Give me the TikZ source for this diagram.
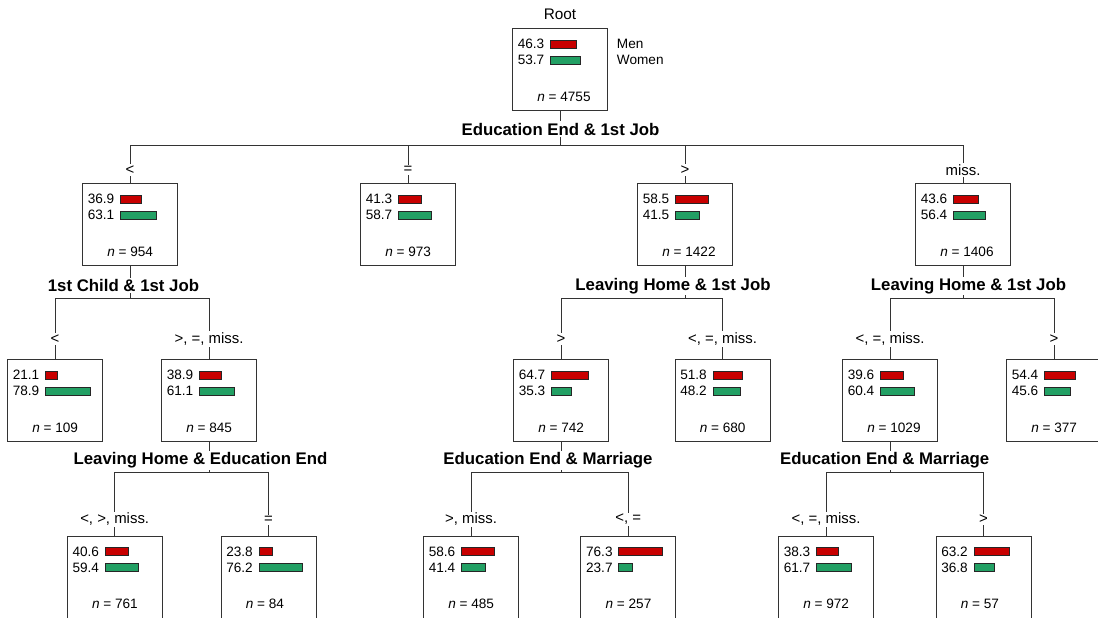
\documentclass[tikz,border=0pt]{standalone}
\usepackage{fontspec}
\setmainfont{Liberation Sans}
\usetikzlibrary{positioning}
\definecolor{menred}{RGB}{200,0,0}
\definecolor{womengreen}{RGB}{34,160,100}
\tikzset{
  box/.style={rectangle,draw=black!80,line width=0.7pt,minimum width=71.25pt,minimum height=61.5pt,inner sep=0pt,anchor=north},
  bar/.style={draw=black!85,line width=0.6pt},
  val/.style={anchor=west,inner sep=0pt,font=\fontsize{10.2}{12}\selectfont},
  conn/.style={draw=black!80,line width=0.7pt},
  splitlbl/.style={fill=white,inner sep=1pt,font=\fontsize{12.6}{14}\selectfont\bfseries},
  cutlbl/.style={fill=white,inner sep=1pt,font=\fontsize{11.2}{13}\selectfont}
}

\begin{document}
\begin{tikzpicture}[x=0.75pt,y=-0.75pt]
    \useasboundingbox (0,0) rectangle (1098,617);
    \clip (0,0) rectangle (1098,617);

    % === Boxes: name/x/top/men/women/n ===
    \foreach \nm/\x/\y/\m/\w/\n in {root/560/28/46.3/53.7/4755,
        a/130/183/36.9/63.1/954, b/408/183/41.3/58.7/973,
        c/685/183/58.5/41.5/1422, d/963/183/43.6/56.4/1406,
        a1/55/359/21.1/78.9/109, a2/209/359/38.9/61.1/845,
        c1/561/359/64.7/35.3/742, c2/722.5/359/51.8/48.2/680,
        d1/890/359/39.6/60.4/1029, d2/1054/359/54.4/45.6/377,
        a21/114.7/535.7/40.6/59.4/761, a22/268.5/535.7/23.8/76.2/84,
        c11/471/535.7/58.6/41.4/485, c12/628.3/535.7/76.3/23.7/257,
        d11/826/535.7/38.3/61.7/972, d12/983.5/535.7/63.2/36.8/57} {
        \node[box] (\nm) at (\x,\y) {};
        \path (\nm.north west) ++(5.5,16) node[val] {\m};
        \path (\nm.north west) ++(5.5,32) node[val] {\w};
        \draw[bar,fill=menred] (\nm.north west) ++(38.5,12) rectangle ++({0.565*\m},8);
        \draw[bar,fill=womengreen] (\nm.north west) ++(38.5,28) rectangle ++({0.565*\w},8);
        \path (\nm.north west) ++(25,68.5) node[val] {\textit{n} = \n};
    }

    % Title and legend
    \node[font=\fontsize{11.5}{13}\selectfont] (title) at (560,14) {Root};
    \node[val] (men) at (616.7,44) {Men};
    \node[val] (women) at (616.7,60) {Women};

    % === Split points ===
    \coordinate (s0) at (560,145);
    \coordinate (sa) at (130,298);
    \coordinate (sc) at (685,298);
    \coordinate (sd) at (963,298);
    \coordinate (sa2) at (209,472.5);
    \coordinate (sc1) at (561,472.5);
    \coordinate (sd1) at (890,472.5);

    % === Connectors ===
    \foreach \p/\s/\kids in {root/s0/{a,b,c,d}, a/sa/{a1,a2}, c/sc/{c1,c2},
        d/sd/{d1,d2}, a2/sa2/{a21,a22}, c1/sc1/{c11,c12}, d1/sd1/{d11,d12}} {
        \draw[conn] (\p.south) -- (\s);
        \foreach \k in \kids {
            \draw[conn] (\s) -| (\k.north);
        }
    }

    % === Split variables ===
    \node[splitlbl] (v0) at (560.5,129) {Education End \& 1st Job};
    \node[splitlbl] (va) at (123.5,285.7) {1st Child \& 1st Job};
    \node[splitlbl] (vc) at (673,285.7) {Leaving Home \& 1st Job};
    \node[splitlbl] (vd) at (968.5,285.7) {Leaving Home \& 1st Job};
    \node[splitlbl] (va2) at (200.5,460.5) {Leaving Home \& Education End};
    \node[splitlbl] (vc1) at (548,460.5) {Education End \& Marriage};
    \node[splitlbl] (vd1) at (884.7,460.5) {Education End \& Marriage};

    % === Edge labels ===
    \foreach \k/\x/\y/\t in {a/130/170/{<}, b/408/170/{=}, c/685/170/{>}, d/963/170/{miss.},
        a1/55/339/{<}, a2/209/339/{>, =, miss.}, c1/561/339/{>}, c2/722.5/339/{<, =, miss.},
        d1/890/339/{<, =, miss.}, d2/1054/339/{>},
        a21/114.7/519.5/{<, >, miss.}, a22/268.5/519.5/{=}, c11/471/519.5/{>, miss.},
        c12/628.3/519.5/{<, =}, d11/826/519.5/{<, =, miss.}, d12/983.5/519.5/{>}} {
        \node[cutlbl] (e-\k) at (\x,\y) {\t};
    }
\end{tikzpicture}
\end{document}
